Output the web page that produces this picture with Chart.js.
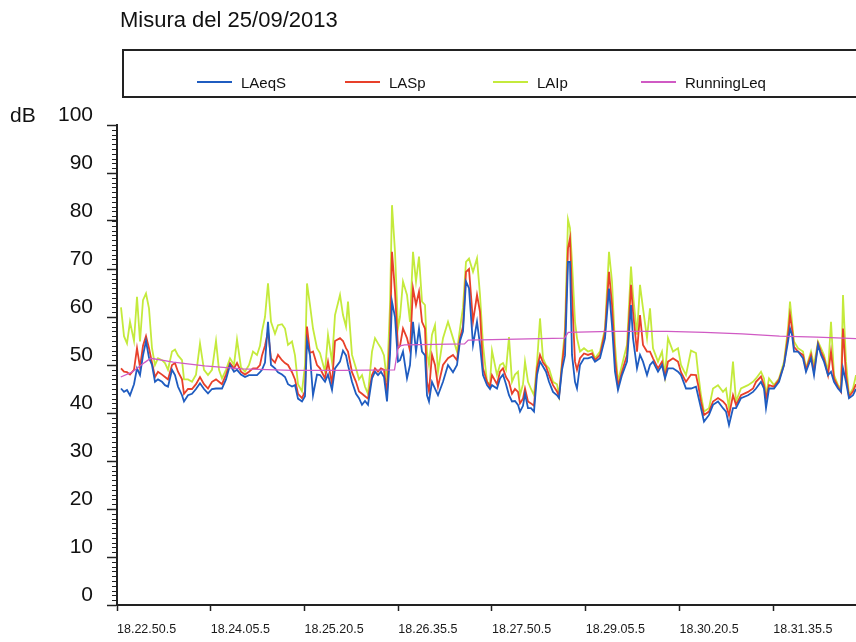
<!DOCTYPE html>
<html>
<head>
<meta charset="utf-8">
<script src="https://cdn.jsdelivr.net/npm/chart.js@4.4.1/dist/chart.umd.min.js"></script>
<style>
  html, body { margin: 0; padding: 0; background: #fff; }
  #wrap { position: relative; width: 856px; height: 642px; overflow: hidden; background: #fff; font-family: "Liberation Sans", Arial, sans-serif; color: #111; }
  #chart { position: absolute; left: 0; top: 0; }
  #title { position: absolute; left: 120px; top: 9px; font-size: 22px; line-height: 22px; }
  #unit { position: absolute; left: 10px; top: 104px; font-size: 21px; line-height: 21px; }
  #legendBox { position: absolute; left: 122px; top: 49px; width: 800px; height: 49px; border: 2px solid #222; display: flex; align-items: center; padding-left: 73px; box-sizing: border-box; padding-top: 17px; }
  .item { display: flex; align-items: center; width: 148px; font-size: 15px; }
  .item span.line { display: inline-block; width: 35px; height: 1.5px; margin-right: 9px; }
</style>
</head>
<body>
<div id="wrap">
  <canvas id="chart" width="856" height="642"></canvas>
  <div id="title">Misura del 25/09/2013</div>
  <div id="legendBox"></div>
  <div id="unit">dB</div>
</div>
<script>
// seconds from 18.22.50.5
const times = [
  3.2, 5.6, 8, 10.4, 13.6, 16, 18.4, 20.8, 23.2, 25.6,
  28, 30.4, 32.8, 36, 38.4, 40.8, 44, 46.4, 48.8, 52,
  53.6, 56.8, 60, 63.2, 66.4, 69.6, 72.8, 76, 79.2, 81.6,
  84, 87.2, 90.4, 93.6, 96, 99.2, 102.4, 105.6, 108.8, 112,
  114.4, 116, 118.4, 120.8, 123.2, 126.4, 128.8, 132, 134.4, 136.8,
  140, 142.4, 144.8, 148, 150.4, 152, 154.4, 156.8, 160, 162.4,
  166.4, 168.8, 172, 174.4, 178.4, 180.8, 183.2, 184.8, 188, 191.2,
  193.6, 196, 198.4, 200.8, 204, 206.4, 208.8, 211.2, 213.6, 216,
  218.4, 220, 222.4, 224.8, 226.4, 228.8, 232, 234.4, 236.8, 239.2,
  241.6, 244, 246.4, 248, 249.6, 252, 254.4, 256.8, 260.8, 264.8,
  268.8, 272, 274.4, 276.8, 279.2, 281.6, 284.8, 288, 290.4, 292.8,
  296, 298.4, 300, 304, 306.4, 308.8, 311.2, 313.6, 316, 318.4,
  320.8, 322.4, 324.8, 326.4, 328.8, 331.2, 333.6, 336, 338.4, 340.8,
  343.2, 345.6, 348.8, 352, 353.6, 356, 358.4, 360.8, 362.4, 364,
  366.4, 368, 370.4, 373.6, 376.8, 380, 382.4, 386.4, 390.4, 393.6,
  396, 398.4, 400.8, 404, 408, 411.2, 412.8, 416, 418.4, 420.8,
  424, 426.4, 428.8, 432.8, 436, 438.4, 440.8, 444.8, 448.8, 451.2,
  455.2, 459.2, 463.2, 464.8, 467.2, 469.6, 473.6, 476.8, 480.8, 484.8,
  487.2, 489.6, 492.8, 495.2, 499.2, 504.8, 508.8, 511.2, 515.2, 517.6,
  519.2, 521.6, 525.6, 529.6, 533.6, 536.8, 538.4, 540, 541.6, 544.8,
  548.8, 551.2, 555.2, 557.6, 560.8, 563.2, 565.6, 568.8, 571.2, 573.6,
  576.8, 579.2, 580.8, 583.2, 585.6, 588.8, 591.2
];

const laeqS = [
  45.1, 44.4, 44.8, 43.7, 46, 49.3, 47.9, 52, 55, 51.5,
  50, 46.5, 47, 46.5, 45.8, 45.5, 49, 47.9, 45.5, 43.7,
  42.4, 43.7, 44, 45, 46.2, 45, 44.1, 45, 45.1, 45.1,
  45.1, 47, 50, 48.6, 49, 48, 47.5, 47.9, 47.9, 47.9,
  48.5, 49, 50.5, 59, 50, 49.3, 48.5, 48, 47.5, 46,
  45.5, 45.8, 43, 42.4, 43.5, 55, 52, 43.7, 48, 47.9,
  46.5, 48, 44.8, 49.3, 50.7, 53, 52, 50, 46.5, 44,
  43.1, 41.7, 42.5, 41.7, 47.2, 48.6, 47.9, 48.6, 47.5, 42.4,
  52.1, 63.2, 60, 50.7, 51, 52.8, 47.2, 50, 59, 52.8,
  57.6, 52.8, 52, 43.7, 42.4, 46.5, 45.1, 43.7, 46.5, 50,
  48.5, 50, 55, 57, 67.4, 66, 54.2, 59, 54.2, 47.9,
  45.8, 45, 45.8, 45.1, 47.2, 48, 46, 43.7, 42.4, 42.5,
  41.7, 40.3, 41.5, 44, 41, 41, 40.3, 47.9, 50.7, 49.7,
  48.6, 46.5, 44.4, 43.7, 43.1, 49, 52, 71.5, 71.5, 52.1,
  46.5, 45.1, 50, 51.4, 51.4, 51.7, 50.7, 51.4, 55.6, 65.9,
  58.3, 48.6, 44.8, 47.9, 50.7, 62.5, 55.6, 49.3, 52.1, 50.7,
  47.9, 50, 50.7, 48.6, 50, 47.2, 49.3, 49.3, 48.6, 47.9,
  45.1, 45.1, 45.5, 43.7, 41, 38.2, 39.6, 41.7, 42.4, 41,
  40.3, 37.5, 41, 41, 43.1, 43.7, 44.4, 45.1, 46.5, 45.1,
  41, 45.1, 45.1, 46.5, 50, 54.9, 57.6, 56.3, 52.8, 52.8,
  51.4, 48.6, 51.4, 47.9, 54.2, 52.1, 50.7, 47.9, 48.6, 46.5,
  45.1, 44.4, 49.3, 46.5, 43.1, 43.7, 45
];

const lasp = [
  49.3, 48.6, 48.5, 48, 49, 53.5, 49.5, 54, 56, 53.5,
  50.5, 47.5, 48.6, 48, 47.5, 47, 50, 50.4, 48.6, 47,
  44, 45, 45, 46, 47.5, 46, 45.1, 46.5, 47, 46.5,
  46, 48, 50.4, 49.3, 50.4, 48.6, 48, 48.6, 49.3, 49.3,
  50, 52, 54, 57, 51.4, 50.5, 52.1, 51, 50.4, 50,
  48.5, 47, 44, 43.1, 44.5, 58, 52.5, 52.8, 50, 49.3,
  47.2, 50.7, 46, 55, 55.6, 55, 53.5, 52.8, 48.5, 46.5,
  44.5, 44, 43.5, 43, 47.9, 49.3, 48.6, 49.3, 49, 44,
  55.6, 73.6, 65.3, 53.5, 54, 57.6, 55.6, 53, 66, 62.5,
  65.3, 59, 57.6, 46.5, 44.5, 52.1, 50, 45.5, 50, 51.4,
  52.1, 51, 55.6, 58, 69.4, 70, 59, 64.6, 61.1, 49.3,
  46.5, 45.5, 47.9, 46, 48.6, 49.3, 47.5, 46.5, 44, 45,
  44.4, 42, 43, 45.1, 42.4, 42, 41.5, 49.3, 52.1, 50.5,
  49.7, 47.9, 45.8, 44.5, 43.4, 50, 55.6, 74.3, 76.4, 64.6,
  50.7, 49, 51.4, 52.4, 52.1, 52.4, 51, 52.1, 56.9, 69.4,
  62.5, 51.4, 45.5, 48.6, 52.1, 66.7, 61.1, 52.8, 60.4, 54.2,
  52.8, 52.8, 51.4, 49.3, 50.7, 47.5, 50.7, 51.4, 50.7, 48.5,
  46.5, 48, 47.9, 46, 42.4, 39.6, 40.3, 42.4, 43.1, 42.4,
  41.7, 39.5, 43.7, 41.7, 43.7, 44.4, 45.1, 46.5, 47.6, 45.8,
  43, 45.8, 45.5, 46.9, 50, 56.3, 60.4, 57.6, 53.8, 52.8,
  52.1, 49, 52.1, 48.6, 54.5, 52.8, 51.4, 47.9, 52.8, 47.2,
  45.5, 44.4, 57.6, 47.9, 43.4, 44.5, 46
];

const laip = [
  62, 56, 54.5, 59, 55, 64.2, 54.9, 63.5, 64.9, 61.8,
  53.5, 50, 51.4, 51, 50.4, 49, 52.8, 53.2, 52, 51,
  47, 47, 46.5, 48, 54.5, 49, 47.9, 49, 55, 49,
  47.2, 49, 51.4, 50, 55.3, 49.5, 48.6, 50, 52.8, 52.1,
  54, 57, 60, 67, 59, 56.5, 58.3, 58.5, 57.6, 54.2,
  54.9, 52, 46, 44.5, 50, 67, 62.5, 57.6, 53.5, 52.5,
  48.6, 56.3, 50.7, 60.4, 64.6, 60.4, 58, 63.2, 52.1, 49.3,
  47, 47.9, 45.5, 44, 52.8, 55.6, 54.5, 53.5, 52, 46.5,
  62.5, 83.3, 73.6, 57.6, 60, 67.4, 64.6, 59, 73.6, 67.4,
  72.6, 63.2, 62.5, 52.8, 50, 56.3, 58.3, 48.6, 55.6, 59,
  55.6, 52.8, 57.6, 62, 71.5, 72.2, 69.4, 72.2, 64.6, 54.2,
  46.5, 46, 53, 47.9, 50, 50.4, 49, 55.8, 46.5, 48,
  48.6, 43.7, 46, 50.7, 46.5, 45, 43.7, 50.4, 59.7, 51.4,
  50, 49.3, 46.5, 46, 43.7, 50.7, 57.6, 80.3, 78.5, 71.5,
  59, 55.6, 52.8, 53.5, 52.8, 53.1, 51.4, 52.8, 57.6, 73.6,
  67.4, 54.2, 46.5, 50, 54.2, 70.5, 64.6, 56.3, 66.7, 61.8,
  55.6, 61.8, 53.5, 50.7, 52.8, 47.9, 55.6, 52.8, 53.5, 50,
  47.9, 53, 52.5, 48.6, 43.7, 40.3, 41, 45.1, 45.8, 44.4,
  45.1, 41, 50.7, 42.4, 45.1, 45.8, 46.5, 47.2, 48.6, 47.2,
  43.7, 47.2, 45.8, 47.2, 50.7, 57.6, 63.2, 59, 54.9, 53.5,
  52.8, 49.3, 52.8, 50, 54.9, 53.5, 52.1, 48.6, 59, 47.9,
  45.8, 45.1, 64.6, 50.7, 43.7, 45.1, 47.9
];

const runningTimes = [3, 12, 22, 27, 45, 70, 100, 140, 180, 222, 225, 230, 278, 281, 358, 361, 395, 440, 470, 500, 530, 560, 591.2];
const runningLeq = [47.5, 48.5, 50.5, 51.4, 50.6, 49.8, 49.2, 48.9, 48.9, 49, 53.9, 54.2, 54.4, 55.2, 55.6, 56.8, 57, 57, 56.8, 56.5, 56, 55.8, 55.5];

const tickSeconds = [0, 75, 150, 225, 300, 375, 450, 525];
const tickLabels = ['18.22.50.5', '18.24.05.5', '18.25.20.5', '18.26.35.5', '18.27.50.5', '18.29.05.5', '18.30.20.5', '18.31.35.5'];
const yTicks = [0, 10, 20, 30, 40, 50, 60, 70, 80, 90, 100];

function pts(xs, ys) {
  return xs.map((t, i) => ({ x: t, y: ys[i] }));
}

const minorTicks = {
  id: 'minorTicks',
  afterDraw(chart) {
    const s = chart.scales.y;
    const ctx = chart.ctx;
    ctx.save();
    ctx.strokeStyle = '#222';
    ctx.lineWidth = 1;
    for (let v = 0; v <= 100; v++) {
      const py = Math.round(s.getPixelForValue(v)) + 0.5;
      ctx.beginPath();
      ctx.moveTo(s.right - 5, py);
      ctx.lineTo(s.right, py);
      ctx.stroke();
    }
    ctx.restore();
  }
};

const chart = new Chart(document.getElementById('chart'), {
  type: 'line',
  data: {
    datasets: [
      { label: 'LAeqS', data: pts(times, laeqS), borderColor: '#1f5cc0', borderWidth: 1.8, order: 2 },
      { label: 'LASp', data: pts(times, lasp), borderColor: '#e8402a', borderWidth: 1.8, order: 3 },
      { label: 'LAIp', data: pts(times, laip), borderColor: '#c4ea3c', borderWidth: 1.8, order: 4 },
      { label: 'RunningLeq', data: pts(runningTimes, runningLeq), borderColor: '#d05ac4', borderWidth: 1.3, order: 1 }
    ]
  },
  options: {
    responsive: false,
    animation: false,
    devicePixelRatio: 1,
    layout: { padding: { top: 125, left: 0, right: 0, bottom: 0 } },
    elements: { point: { radius: 0 }, line: { tension: 0, fill: false } },
    plugins: { legend: { display: false }, tooltip: { enabled: false }, title: { display: false } },
    scales: {
      x: {
        type: 'linear',
        min: 0,
        max: 591.2,
        afterBuildTicks: s => { s.ticks = tickSeconds.map(v => ({ value: v })); },
        afterFit: s => { s.height = 37; },
        border: { color: '#222', width: 2 },
        grid: { drawOnChartArea: false, tickLength: 6, tickColor: '#222', tickWidth: 1.5 },
        ticks: {
          autoSkip: false,
          maxRotation: 0,
          align: 'start',
          padding: 11,
          color: '#1a1a1a',
          font: { family: '"Liberation Sans", Arial, sans-serif', size: 12.5 },
          callback: (v, i) => tickLabels[i]
        }
      },
      y: {
        min: 0,
        max: 100,
        afterBuildTicks: s => { s.ticks = yTicks.map(v => ({ value: v })); },
        afterFit: s => { s.width = 117; },
        border: { color: '#222', width: 2 },
        grid: { drawOnChartArea: false, tickLength: 10, tickColor: '#222', tickWidth: 1.5 },
        ticks: {
          padding: 14,
          labelOffset: -10,
          color: '#111',
          font: { family: '"Liberation Sans", Arial, sans-serif', size: 21 }
        }
      }
    }
  },
  plugins: [minorTicks]
});

const box = document.getElementById('legendBox');
chart.data.datasets.forEach(ds => {
  const item = document.createElement('div');
  item.className = 'item';
  const line = document.createElement('span');
  line.className = 'line';
  line.style.background = ds.borderColor;
  const txt = document.createElement('span');
  txt.textContent = ds.label;
  item.appendChild(line);
  item.appendChild(txt);
  box.appendChild(item);
});
</script>
</body>
</html>
